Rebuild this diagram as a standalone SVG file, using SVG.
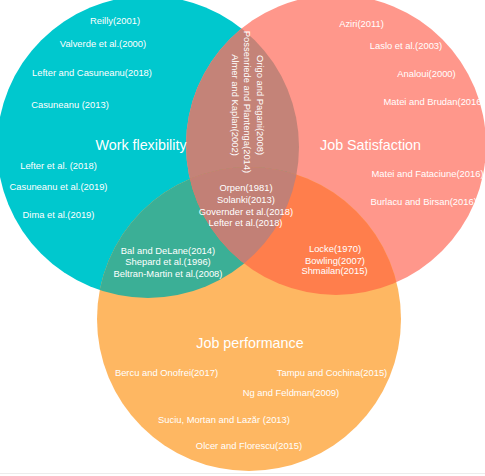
<svg xmlns="http://www.w3.org/2000/svg" xmlns:xlink="http://www.w3.org/1999/xlink" width="485" height="476" viewBox="0 0 485 476">
<style>
text{font-family:"Liberation Sans",Arial,Helvetica,sans-serif;fill:#ffffff;text-anchor:middle}
.s{font-size:9.4px}
.t{font-size:14.3px}
</style>
<defs>
<circle id="cWF" cx="148" cy="147" r="151"/>
<circle id="cJS" cx="336" cy="145" r="150"/>
<circle id="cJP" cx="249" cy="319" r="152"/>
<clipPath id="kWF"><use xlink:href="#cWF"/></clipPath>
<clipPath id="kJS"><use xlink:href="#cJS"/></clipPath>
<clipPath id="kJP"><use xlink:href="#cJP"/></clipPath>
</defs>
<rect width="485" height="476" fill="#ffffff"/>
<line x1="0" y1="473.5" x2="485" y2="473.5" stroke="#ececec" stroke-width="1"/>
<g id="work-flexibility"><use xlink:href="#cWF" fill="#00C8CE"/></g>
<g id="job-satisfaction"><use xlink:href="#cJS" fill="#FF978B"/></g>
<g id="job-performance"><use xlink:href="#cJP" fill="#FEB762"/></g>
<g id="overlaps">
<g clip-path="url(#kWF)"><use xlink:href="#cJS" fill="#C48378"/></g>
<g clip-path="url(#kWF)"><use xlink:href="#cJP" fill="#3BAF96"/></g>
<g clip-path="url(#kJS)"><use xlink:href="#cJP" fill="#FF7E4C"/></g>
<g clip-path="url(#kWF)"><g clip-path="url(#kJS)"><use xlink:href="#cJP" fill="#C28076"/></g></g>
</g>
<g id="labels-work-flexibility">
<text class="s" x="115" y="24">Reilly(2001)</text>
<text class="s" x="103" y="47">Valverde et al.(2000)</text>
<text class="s" x="92" y="76">Lefter and Casuneanu(2018)</text>
<text class="s" x="70" y="108">Casuneanu (2013)</text>
<text class="t" x="141" y="150">Work flexibility</text>
<text class="s" x="58.5" y="169">Lefter et al. (2018)</text>
<text class="s" x="58.5" y="190">Casuneanu et al.(2019)</text>
<text class="s" x="58.5" y="218">Dima et al.(2019)</text>
</g>
<g id="labels-job-satisfaction">
<text class="s" x="361.5" y="27">Aziri(2011)</text>
<text class="s" x="406" y="49">Laslo et al.(2003)</text>
<text class="s" x="426.5" y="77">Analoui(2000)</text>
<text class="s" x="383.5" y="105" style="text-anchor:start">Matei and Brudan(2016</text>
<text class="t" x="370.5" y="150">Job Satisfaction</text>
<text class="s" x="371.5" y="177" style="text-anchor:start">Matei and Fataciune(2016)</text>
<text class="s" x="370.5" y="205" style="text-anchor:start">Burlacu and Birsan(2016)</text>
</g>
<g id="labels-wf-js">
<text class="s" transform="translate(256.5,105) rotate(90)">Origo and Pagani(2008)</text>
<text class="s" transform="translate(243.5,102) rotate(90)">Possenriede and Plantenga(2014)</text>
<text class="s" transform="translate(232,105) rotate(90)">Almer and Kaplan(2002)</text>
</g>
<g id="labels-all-three">
<text class="s" x="246" y="191">Orpen(1981)</text>
<text class="s" x="246" y="203">Solanki(2013)</text>
<text class="s" x="246" y="215">Governder et al.(2018)</text>
<text class="s" x="245.5" y="225.5">Lefter et al.(2018)</text>
</g>
<g id="labels-wf-jp">
<text class="s" x="168" y="254">Bal and DeLane(2014)</text>
<text class="s" x="168" y="265">Shepard et al.(1996)</text>
<text class="s" x="168" y="277">Beltran-Martin et al.(2008)</text>
</g>
<g id="labels-js-jp">
<text class="s" x="335" y="252">Locke(1970)</text>
<text class="s" x="335" y="263.5">Bowling(2007)</text>
<text class="s" x="334.5" y="274">Shmailan(2015)</text>
</g>
<g id="labels-job-performance">
<text class="t" x="250" y="348">Job performance</text>
<text class="s" x="166.5" y="376">Bercu and Onofrei(2017)</text>
<text class="s" x="332" y="376">Tampu and Cochina(2015)</text>
<text class="s" x="291" y="396">Ng and Feldman(2009)</text>
<text class="s" x="224" y="422.5">Suciu, Mortan and Lazăr (2013)</text>
<text class="s" x="249" y="448.5">Olcer and Florescu(2015)</text>
</g>
</svg>
